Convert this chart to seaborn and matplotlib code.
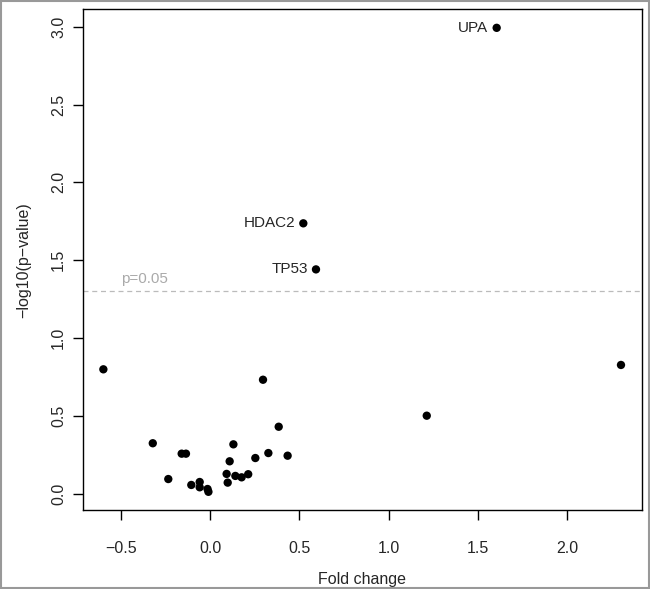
import math
import pandas as pd
import matplotlib
matplotlib.use("Agg")
import matplotlib.pyplot as plt
import seaborn as sns

# values
fold_change = [-0.599, -0.322, -0.160, -0.136, -0.235, -0.106, -0.059, -0.059,
               -0.015, -0.010, 0.130, 0.109, 0.092, 0.098, 0.141, 0.176, 0.213,
               0.296, 0.384, 0.253, 0.326, 0.434, 1.214, 2.303,
               0.522, 0.593, 1.606]
neg_log_p = [0.799, 0.324, 0.257, 0.257, 0.094, 0.056, 0.075, 0.041,
             0.030, 0.012, 0.317, 0.208, 0.127, 0.071, 0.114, 0.105, 0.125,
             0.732, 0.430, 0.229, 0.261, 0.244, 0.501, 0.827,
             1.737, 1.441, 2.993]
gene = [""] * 24 + ["HDAC2", "TP53", "UPA"]

x_ticks = [-0.5, 0.0, 0.5, 1.0, 1.5, 2.0]
y_ticks = [0.0, 0.5, 1.0, 1.5, 2.0, 2.5, 3.0]
cutoff = 0.05

data = pd.DataFrame({'Fold change': fold_change, 'neglogp': neg_log_p, 'gene': gene})

sns.set_style("white")
plt.rcParams['font.family'] = ['Liberation Sans', 'DejaVu Sans']

fig = plt.figure(figsize=(6.5, 5.89), dpi=100)
ax = fig.add_axes([0.1272, 0.1341, 0.86, 0.8501])

sns.scatterplot(x='Fold change', y='neglogp', data=data, color='black',
                s=36, edgecolor='none', ax=ax, zorder=3)

# significance line
p_line = -math.log10(cutoff)
ax.axhline(p_line, color='#bbbbbb', linestyle=(0, (4, 3)), linewidth=0.9, zorder=1)
ax.text(-0.37, p_line + 0.035, 'p=0.05', color='#aaaaaa', fontsize=11,
        ha='center', va='bottom')

# gene labels to the left of the points
for _, row in data[data['gene'] != ''].iterrows():
    ax.annotate(row['gene'], (row['Fold change'], row['neglogp']),
                xytext=(-6, 0), textcoords='offset points',
                ha='right', va='center', fontsize=11)

ax.set_xlim(-0.715, 2.419)
ax.set_ylim(-0.105, 3.112)
ax.set_xticks(x_ticks)
ax.set_yticks(y_ticks)
ax.set_xticklabels([f"{v:.1f}".replace('-', '\u2212') for v in x_ticks], fontsize=11.5)
ax.set_yticklabels([f"{v:.1f}" for v in y_ticks], fontsize=11.5,
                   rotation=90, va='center')
ax.tick_params(axis='both', direction='out', length=7, width=1, color='black',
               bottom=True, left=True)
ax.tick_params(axis='y', pad=5)
ax.tick_params(axis='x', pad=15)

for side in ['top', 'right', 'bottom', 'left']:
    ax.spines[side].set_visible(True)
    ax.spines[side].set_color('black')
    ax.spines[side].set_linewidth(1)

ax.set_xlabel('Fold change', fontsize=11.5, labelpad=12)
ax.set_ylabel('\u2212log10(p\u2212value)', fontsize=11.5, labelpad=14)

# thin grey frame round the whole picture
fig.patches.append(plt.Rectangle((0.001, 0.001), 0.997, 0.997, transform=fig.transFigure,
                                 fill=False, edgecolor='#999999', linewidth=1.5))

fig.savefig('out.png', dpi=100)
